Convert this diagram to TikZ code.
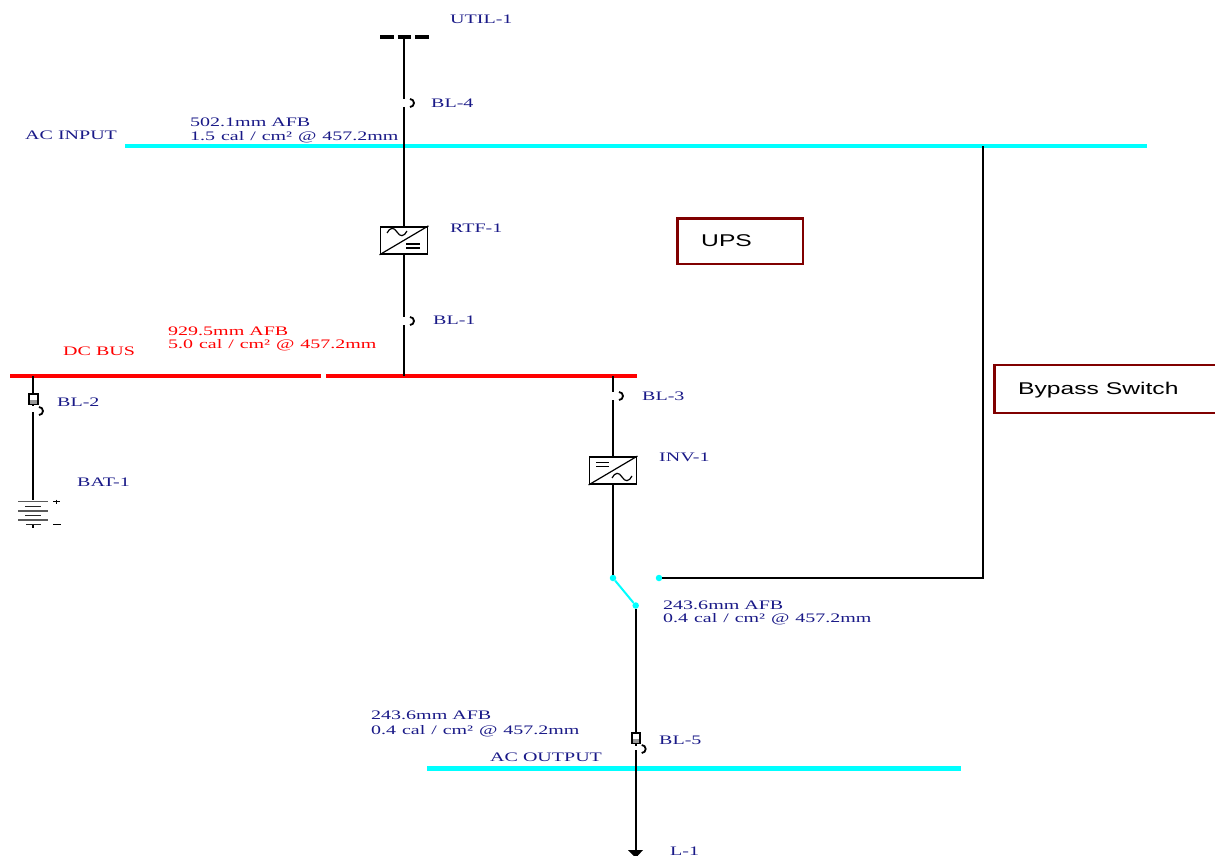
\documentclass[tikz,border=0pt]{standalone}
\usepackage{fontspec}
\setmainfont{Liberation Serif}
\newfontfamily\labfont[FakeStretch=1.54]{Liberation Serif}
\newfontfamily\calfont[FakeStretch=1.535,WordSpace=1.19]{Liberation Serif}
\newfontfamily\boxfont[FakeStretch=1.45]{Liberation Sans}
\definecolor{lab}{RGB}{25,25,135}
\definecolor{busc}{RGB}{0,255,255}
\definecolor{boxr}{RGB}{128,0,0}
\tikzset{
  x=1pt,y=-1pt,
  wire/.style={draw=black,line width=2pt},
  acbus/.style={draw=busc,line width=4.2pt},
  dcbus/.style={draw=red,line width=4.6pt},
  lbl/.style={anchor=west,inner sep=0pt,yshift=-0.7pt,text=lab,font=\labfont\fontsize{13}{13}\selectfont,align=left},
  rlbl/.style={lbl,text=red},
  callbl/.style={lbl,font=\calfont\fontsize{13}{13}\selectfont},
  rcallbl/.style={callbl,text=red},
  brk/.style={draw=black,line width=1.8pt},
  sym/.style={draw=black,line width=1.2pt},
  conv/.style={draw=black,line width=1.9pt,fill=white,minimum width=47pt,minimum height=27pt,inner sep=0pt},
  redbox/.style={draw=boxr,line width=2.2pt,fill=white,inner sep=0pt,anchor=north west},
  boxtext/.style={anchor=west,inner sep=0pt,font=\boxfont\fontsize{17}{17}\selectfont},
  dot/.style={circle,fill=busc,inner sep=0pt,minimum size=6.5pt},
}
\newcommand{\brkarc}[2]{%
  \draw[brk] (#1+6,#2-4) arc[start angle=90,end angle=-90,x radius=4,y radius=-4];}
\begin{document}
\begin{tikzpicture}
\useasboundingbox (0,0) rectangle (1215,856);
% labels
\node[lbl] (util) at (450,19) {UTIL-1};
\node[lbl] (bl4) at (431,103) {BL-4};
\node[lbl] (acin) at (25,135) {AC INPUT};
\node[lbl] (afb1) at (190,121.5) {502.1mm AFB};
\node[callbl] (cal1) at (190,136.3) {1.5 cal / cm² @ 457.2mm};
\node[lbl] (rtfl) at (450,228) {RTF-1};
\node[lbl] (bl1) at (433,320) {BL-1};
\node[rlbl] (afb2) at (168,330.5) {929.5mm AFB};
\node[rcallbl] (cal2) at (168,344.5) {5.0 cal / cm² @ 457.2mm};
\node[rlbl] (dcl) at (63,351) {DC BUS};
\node[lbl] (bl2) at (57,402) {BL-2};
\node[lbl] (batl) at (77,482) {BAT-1};
\node[lbl] (bl3) at (642,396) {BL-3};
\node[lbl] (invl) at (659,457) {INV-1};
\node[lbl] (afb3) at (663,605) {243.6mm AFB};
\node[callbl] (cal3) at (663,619) {0.4 cal / cm² @ 457.2mm};
\node[lbl] (afb4) at (371,714.5) {243.6mm AFB};
\node[callbl] (cal4) at (371,730.3) {0.4 cal / cm² @ 457.2mm};
\node[lbl] (bl5) at (659,740) {BL-5};
\node[lbl] (acout) at (490,757) {AC OUTPUT};
\node[lbl] (l1) at (670,850.5) {L-1};
% junction coordinates
\coordinate (uTop) at (404,37);
\coordinate (b4a) at (404,99);
\coordinate (b4b) at (404,107);
\coordinate (acJ) at (404,146);
\coordinate (acByp) at (983,146);
\coordinate (b1a) at (404,317);
\coordinate (b1b) at (404,325);
\coordinate (dcJ) at (404,376);
\coordinate (dcL) at (33,376);
\coordinate (b2a) at (33,406);
\coordinate (b2b) at (33,412);
\coordinate (batT) at (33,500);
\coordinate (dcR) at (613,376);
\coordinate (b3a) at (613,392);
\coordinate (b3b) at (613,400);
\coordinate (bypC) at (983,578);
\coordinate (b5a) at (635.7,746);
\coordinate (b5b) at (635.7,750);
\coordinate (lEnd) at (635.7,851);
% source
\draw[line width=4.4pt,dash pattern=on 13.5pt off 4pt,draw=black] (380,36.8) -- (429,36.8);
% buses
\draw[acbus] (125,146) coordinate (a1) -- (1147,146) coordinate (a2);
\draw[dcbus] (10,376) coordinate (d1) -- (321,376) coordinate (d2);
\draw[dcbus] (326,376) coordinate (d3) -- (637,376) coordinate (d4);
\draw[acbus] (427,768.5) coordinate (o1) -- (961,768.5) coordinate (o2);
% converters
\node[conv] (rtf) at (404,240.3) {};
\node[conv] (inv) at (613,470.5) {};
% wires
\draw[wire] (uTop) -- (b4a);
\draw[wire] (b4b) -- (acJ);
\draw[wire] (acJ) -- (rtf.north);
\draw[wire] (rtf.south) -- (b1a);
\draw[wire] (b1b) -- (dcJ);
\draw[wire] (dcL) -- (b2a);
\draw[wire] (b2b) -- (batT);
\draw[wire] (dcR) -- (b3a);
\draw[wire] (b3b) -- (inv.north);
\node[dot] (swA) at (613,578) {};
\node[dot] (swB) at (635.7,605.5) {};
\node[dot] (swC) at (659,578) {};
\draw[wire] (inv.south) -- (swA);
\draw[draw=busc,line width=2pt] (swA) -- (swB);
\draw[wire] (swC) -- (bypC) -- (acByp);
\draw[wire] (swB) -- (b5a);
\draw[wire] (b5b) -- (lEnd);
% arrowhead
\fill[black] (628,850) -- (643,850) -- (635.7,858) -- cycle;
% breaker arcs
\brkarc{404}{103}
\brkarc{404}{321}
\brkarc{613}{396}
\brkarc{33}{411}
\brkarc{635.7}{749}
% fuses
\draw[line width=1.7pt,fill=white] (29.3,394) rectangle (37.7,404.5);
\fill[gray!80] (30.2,400) rectangle (36.8,403.6);
\draw[line width=1.7pt,fill=white] (631.7,733) rectangle (640,743.5);
\fill[gray!80] (632.6,739) rectangle (639.1,742.6);
% converter interiors
\draw[sym] (rtf.south west) -- (rtf.north east);
\draw[sym] (387,233) .. controls (390,227) and (394,227) .. (397,232) .. controls (400,237) and (404,237) .. (407,231);
\draw[sym] (406,244) -- (420,244) (406,248) -- (420,248);
\draw[sym] (inv.south west) -- (inv.north east);
\draw[sym] (596,462.5) -- (609,462.5) (596,466.5) -- (609,466.5);
\draw[sym] (612,478) .. controls (615,472) and (619,472) .. (622,477) .. controls (625,482) and (629,482) .. (632,476);
% battery
\draw[draw=gray!70!black,line width=1.5pt] (18,501.5) -- (48,501.5) (18,511) -- (48,511) (18,520) -- (48,520);
\draw[draw=gray!30!black,line width=1.3pt] (25,506.5) -- (41,506.5) (25,515.5) -- (41,515.5) (26,524.5) -- (41,524.5);
\draw[line width=1.2pt] (33,524.5) -- (33,528);
\draw[line width=1.2pt] (53,501.5) -- (60,501.5) (56.5,499.5) -- (56.5,503.5);
\draw[line width=1.2pt] (53,524.5) -- (61,524.5);
% boxes
\draw[redbox] (677.5,218.5) rectangle (803,264);
\draw[draw=boxr,line width=2.6pt] (678,217.5) -- (678,265);
\node[boxtext] (ups) at (701,240.5) {UPS};
\draw[redbox] (994.5,365) rectangle (1217,413);
\draw[draw=boxr,line width=2.6pt] (995,364) -- (995,414);
\node[boxtext] (byp) at (1018,390) {Bypass Switch};
\end{tikzpicture}
\end{document}
